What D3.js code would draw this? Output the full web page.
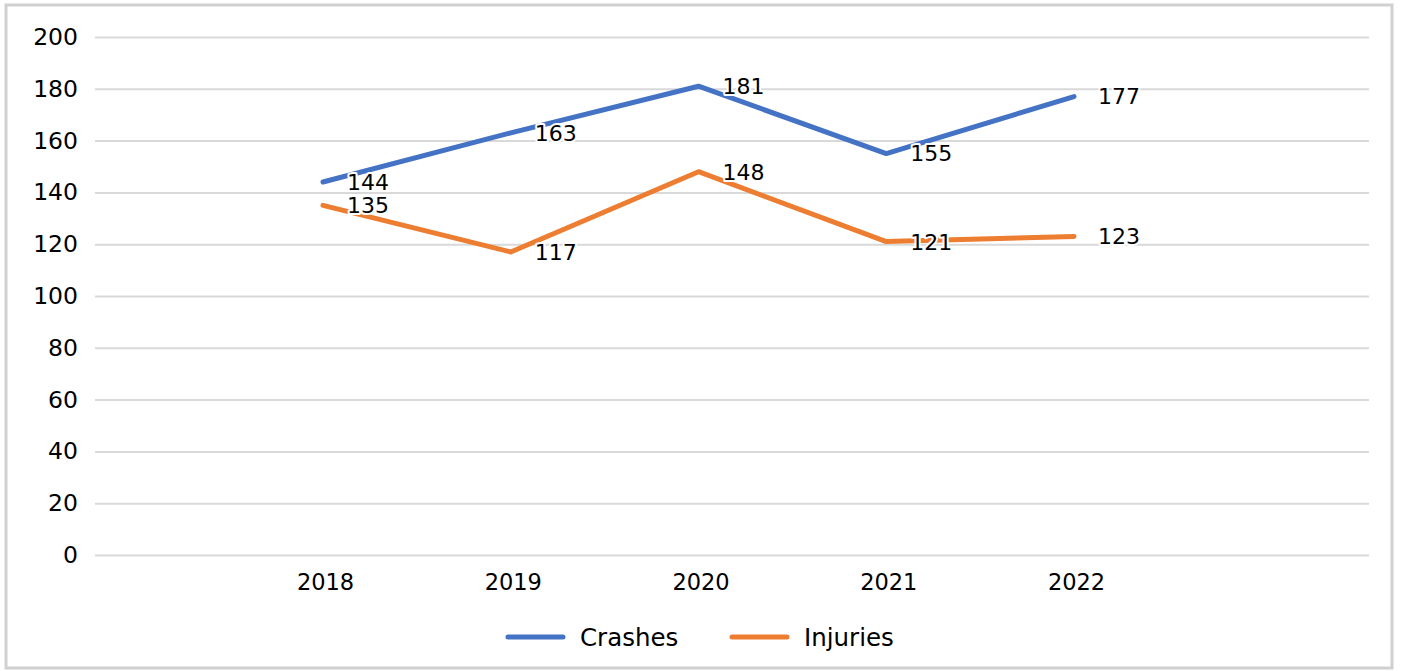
<!DOCTYPE html>
<html>
<head>
<meta charset="utf-8">
<script src="https://cdn.jsdelivr.net/npm/d3@7"></script>
<style>
  body { margin: 0; background: #fff; }
  text { font-family: "DejaVu Sans", sans-serif; fill: #000; }
</style>
</head>
<body>
<div class="chart-cnt"></div>
<script>
var years = ["2018", "2019", "2020", "2021", "2022"];
var crashes = [144, 163, 181, 155, 177];
var injuries = [135, 117, 148, 121, 123];
var yTicks = [0, 20, 40, 60, 80, 100, 120, 140, 160, 180, 200];
var seriesNames = ["Crashes", "Injuries"];
var seriesColors = ["#4472C4", "#ED7D31"];

var width = 1401, height = 671;
var plotLeft = 95, plotRight = 1369, plotTop = 37, plotBottom = 555;

var svg = d3.select(".chart-cnt")
    .append("svg")
    .attr("width", width)
    .attr("height", height);

// outer frame
svg.append("rect")
    .attr("x", 6).attr("y", 5)
    .attr("width", 1386).attr("height", 663)
    .attr("fill", "#fff")
    .attr("stroke", "#d0d0d0")
    .attr("stroke-width", 3);

var x = d3.scalePoint().domain(years).range([323, 1074]);
var y = d3.scaleLinear().domain([0, 200]).range([plotBottom, plotTop]);

// gridlines + y labels
var yAxis = d3.axisLeft(y)
    .tickValues(yTicks)
    .tickSize(-(plotRight - plotLeft))
    .tickPadding(17);

var gy = svg.append("g")
    .attr("transform", `translate(${plotLeft},0)`)
    .call(yAxis);
gy.select(".domain").remove();
gy.selectAll(".tick line").attr("stroke", "#d9d9d9").attr("stroke-width", 2);
gy.selectAll(".tick text")
    .attr("font-size", 23.5)
    .attr("font-family", "DejaVu Sans")
    .attr("fill", "#000");

// x labels
var xAxis = d3.axisBottom(x).tickSize(0).tickPadding(19);
var gx = svg.append("g")
    .attr("transform", `translate(2,${plotBottom})`)
    .call(xAxis);
gx.select(".domain").remove();
gx.selectAll(".tick text")
    .attr("font-size", 22.5)
    .attr("font-family", "DejaVu Sans")
    .attr("fill", "#000");

var line = d3.line()
    .x((d, i) => x(years[i]))
    .y(d => y(d));

var series = [crashes, injuries];

series.forEach(function(vals, s) {
    svg.append("path")
        .datum(vals)
        .attr("d", line)
        .attr("fill", "none")
        .attr("stroke", seriesColors[s])
        .attr("stroke-width", 5)
        .attr("stroke-linecap", "round")
        .attr("stroke-linejoin", "round");
});

series.forEach(function(vals, s) {
    svg.append("g").selectAll("text")
        .data(vals)
        .enter().append("text")
        .attr("x", (d, i) => x(years[i]) + 24)
        .attr("y", d => y(d))
        .attr("dy", "0.36em")
        .attr("font-size", 22)
        .attr("stroke", "#fff")
        .attr("stroke-width", 4)
        .attr("paint-order", "stroke")
        .attr("stroke-linejoin", "round")
        .text(d => d);
});

// legend
var legendX = [508, 732];
var legend = svg.append("g");
seriesNames.forEach(function(name, s) {
    legend.append("line")
        .attr("x1", legendX[s]).attr("x2", legendX[s] + 55)
        .attr("y1", 637).attr("y2", 637)
        .attr("stroke", seriesColors[s])
        .attr("stroke-width", 5)
        .attr("stroke-linecap", "round");
    legend.append("text")
        .attr("x", legendX[s] + 72)
        .attr("y", 637)
        .attr("dy", "0.36em")
        .attr("font-size", 24.5)
        .text(name);
});
</script>
</body>
</html>
